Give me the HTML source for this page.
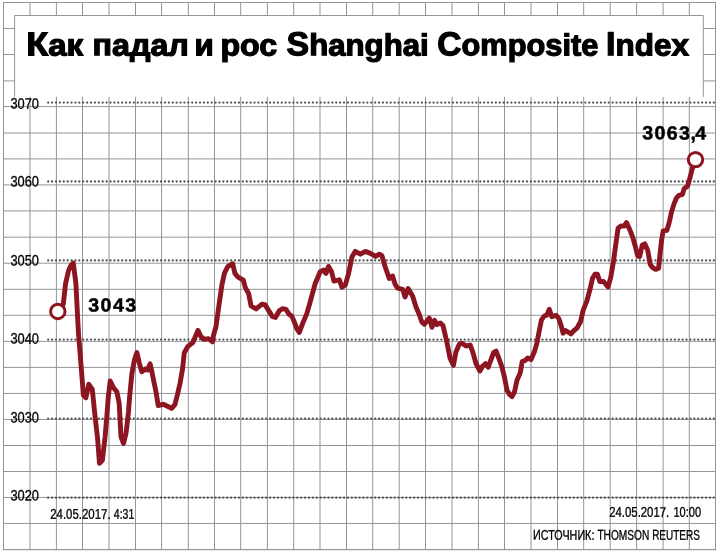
<!DOCTYPE html>
<html lang="ru"><head><meta charset="utf-8"><title>Как падал и рос Shanghai Composite Index</title>
<style>
html,body{margin:0;padding:0;background:#fff;}
body{width:718px;height:551px;overflow:hidden;}
svg{display:block;}
text{font-family:"Liberation Sans","DejaVu Sans",sans-serif;fill:#000;}
.t{font-weight:bold;font-size:30.5px;stroke:#000;stroke-width:1.2px;stroke-linejoin:miter;}
.ax{font-size:15px;stroke:#000;stroke-width:0.3px;}
.sm{font-size:13.5px;stroke:#000;stroke-width:0.3px;}
.val{font-weight:bold;font-size:18px;stroke:#000;stroke-width:0.45px;}
</style></head><body>
<svg width="718" height="551" viewBox="0 0 718 551">
<rect width="718" height="551" fill="#fff"/>
<rect x="0" y="550" width="718" height="1" fill="#e9e9e9"/>
<path d="M3.5 2V549.95M30 2V549.95M56.4 2V549.95M82.5 2V549.95M109 2V549.95M135.5 2V549.95M161.6 2V549.95M188.3 2V549.95M214.5 2V549.95M240.7 2V549.95M267.4 2V549.95M293.7 2V549.95M320 2V549.95M346.5 2V549.95M372.7 2V549.95M399.2 2V549.95M425.5 2V549.95M452 2V549.95M478.4 2V549.95M504.5 2V549.95M531 2V549.95M557.5 2V549.95M583.7 2V549.95M610.2 2V549.95M636.6 2V549.95M663.1 2V549.95M689.3 2V549.95M715.5 2V549.95M3 2.5H716M3 28.5H716M3 54.5H716M3 80.9H716M3 106.6H716M3 133H716M3 158.9H716M3 184.9H716M3 210.9H716M3 237.2H716M3 263.2H716M3 289.3H716M3 315.3H716M3 341.35H716M3 367.4H716M3 393.45H716M3 419.45H716M3 445.5H716M3 471.5H716M3 497.45H716M3 523.45H716M3 549.45H716" fill="none" stroke="#939598" stroke-width="1"/>
<rect x="14.6" y="15.5" width="688.7" height="81.3" fill="#fff"/>
<path d="M14.6 96.8V15.5H703.3V96.8" fill="none" stroke="#939598" stroke-width="1"/>
<text class="t" transform="matrix(1.0853 0.00072 0 1 26.24 55.38)"><tspan font-size="33.14">К</tspan>ак</text>
<text class="t" transform="matrix(1.0591 0.00072 0 1 92.41 55.37)">падал</text>
<text class="t" transform="matrix(1.0286 0.00072 0 1 194.46 55.39)">и</text>
<text class="t" transform="matrix(1.0565 0.00072 0 1 220.45 55.38)">рос</text>
<text class="t" transform="matrix(1.023 0.00072 0 1 286.54 55.35)"><tspan font-size="33.14">S</tspan>hanghai</text>
<text class="t" transform="matrix(1.0104 0.00072 0 1 437.34 55.34)"><tspan font-size="33.14">C</tspan>omposite</text>
<text class="t" transform="matrix(1.0323 0.00072 0 1 605.92 55.37)"><tspan font-size="33.14">I</tspan>ndex</text>
<line x1="48.2" y1="102.6" x2="714.5" y2="102.6" stroke="#525256" stroke-width="2.3" stroke-linecap="round" stroke-dasharray="0 3.8925"/>
<line x1="48.2" y1="181.5" x2="714.5" y2="181.5" stroke="#525256" stroke-width="2.3" stroke-linecap="round" stroke-dasharray="0 3.8925"/>
<line x1="48.2" y1="260.4" x2="714.5" y2="260.4" stroke="#525256" stroke-width="2.3" stroke-linecap="round" stroke-dasharray="0 3.8925"/>
<line x1="48.2" y1="339.6" x2="714.5" y2="339.6" stroke="#525256" stroke-width="2.3" stroke-linecap="round" stroke-dasharray="0 3.8925"/>
<line x1="48.2" y1="418.55" x2="714.5" y2="418.55" stroke="#525256" stroke-width="2.3" stroke-linecap="round" stroke-dasharray="0 3.8925"/>
<line x1="48.2" y1="497.65" x2="714.5" y2="497.65" stroke="#525256" stroke-width="2.3" stroke-linecap="round" stroke-dasharray="0 3.8925"/>
<text class="ax" transform="matrix(0.8569 0.00147 0 1.0115 10.38 108.62)">3070</text>
<text class="ax" transform="matrix(0.8569 0.00147 0 1.0115 10.38 186.52)">3060</text>
<text class="ax" transform="matrix(0.8569 0.00147 0 1.0115 10.38 265.52)">3050</text>
<text class="ax" transform="matrix(0.8569 0.00147 0 1.0115 10.38 343.62)">3040</text>
<text class="ax" transform="matrix(0.8569 0.00147 0 1.0115 10.38 422.52)">3030</text>
<text class="ax" transform="matrix(0.8569 0.00147 0 1.0115 10.38 500.52)">3020</text>
<polyline fill="none" stroke="#8c1521" stroke-width="4.9" stroke-linejoin="round" stroke-linecap="round" points="57.8,311.4 63.3,304 65.6,283.4 68.6,270.5 71,265.3 73.3,263 75.9,283.4 77.6,316.9 78.6,335 80.9,363.4 83.4,395.2 85.9,397.7 88.8,384.3 92.3,389.4 95.1,416.7 97.6,438.5 99.5,463.2 102.4,460.2 105.1,436.8 106.8,416.7 108.3,397 110.2,381 113.5,387.7 116.9,391.9 119.2,403.5 121,436.8 123.5,443.5 126,433.5 128.5,411.7 129.6,396.9 131.9,373.5 134.4,360.1 136.9,352.6 139.4,363.4 141.8,371.8 145.9,368.8 147.6,370 150.1,363.8 152.6,375.2 156,392 158.2,405.5 163.3,404.3 171.6,408.3 174.9,404.6 177.7,393.5 180.1,383 182.6,368.5 184.3,352.6 187.7,346.7 193,342.3 195.9,335.2 198,330.4 200.6,336 203.7,339.3 208.5,338.6 212.5,341.8 213.6,335 216,326.5 218.5,308.5 221.9,285.1 224.4,273.4 227.7,266.7 232.7,263.7 234.9,273.4 237.7,276.8 243.3,280.1 245.3,287.6 248.6,293.5 251.1,306 256.1,308.9 261.7,304.3 265,304.6 269.5,311.9 272.3,316.5 275.4,317.5 279.4,310.6 282.7,308.7 285.9,309.4 289.2,314.4 291.8,316.1 294.3,321.9 296.8,328.6 299.3,332.5 302.6,323.6 306.8,313.6 310.2,301.9 315.2,283.5 320.2,271.8 323.5,270.1 326,273.4 328.5,266.4 331.6,271.8 333.9,281 339.4,279.8 341.9,287.2 345.3,285.2 348.6,273.4 352,256.7 355.3,251.4 360.3,254.2 365.3,251.4 370.4,253.4 375.6,256.4 379.3,254.2 381.9,255.6 385.1,266.5 389.2,278.5 392.6,276 395.1,284.3 397.6,288.2 402.6,289.3 405.1,296.9 408.1,288.5 412.6,296 416,306.9 419.3,314.4 421.8,321.9 424.3,324.3 429.3,318.1 432,327.3 434.5,320.3 437,324.7 440.3,322.9 443,325.6 446.8,341.8 450.1,358.5 453.4,365.2 456,351.8 459.3,344.3 461.8,343.1 466,346 470.2,345.1 472.7,351.8 476,363.5 479.9,371 482.7,366 485.6,363.5 488.2,367.2 491.1,359.3 493.6,352.6 496.1,351 498.6,357.7 501.9,366.9 504.4,376.9 507,390.3 509.5,394.4 512,396.6 514.5,391.9 517,380.2 520.3,372.7 522.2,361.6 525.2,360.5 527.7,358.1 531,359.6 534.4,351.8 536.8,343.6 539.4,330 541.4,320.2 544.2,316 546.8,315.2 549.3,309.3 551.8,316.8 556,315.2 558.8,318.5 561,325.2 563.1,333.2 565.5,330.5 571,333.9 573.5,331 576.9,328.2 580.5,321.8 583.2,310.1 586.9,300.9 590.1,289 592.6,278 595,274.2 597.4,274.3 599.8,281.6 603.5,281.5 608,287 610.7,277.6 613.4,261.9 615.9,243.5 618.1,228.1 620.9,225.9 624.3,226.1 626.5,222.6 629.3,228.6 632.6,236.8 635.2,246 637.7,256 639.7,256.5 642.2,245.2 644.8,243.8 647.7,250.2 650.2,264.4 652.7,267.7 655.6,269.4 658.6,268.2 659.9,255.2 661.6,240.1 663.2,230.9 666.9,230.4 669.4,221.7 671.5,212 674.1,203.6 676.6,197.8 679.1,195.3 682.4,194.4 684.2,188.6 687.6,186 689.8,178.3 692.3,168.5 695.5,159.6"/>
<circle cx="57.8" cy="311.45" r="7.2" fill="#fff" stroke="#8c1521" stroke-width="3"/>
<circle cx="695.5" cy="159.6" r="7.2" fill="#fff" stroke="#8c1521" stroke-width="3"/>
<text class="val" letter-spacing="1.36" transform="matrix(1.0888 0.00122 0 1.0566 88.16 311.44)">3043</text>
<text class="val" letter-spacing="1.27" transform="matrix(1.0913 0.00122 0 1.0566 642.16 139.35)">3063<tspan dx="-0.8">,</tspan><tspan dx="-1.98">4</tspan></text>
<text class="sm" transform="matrix(0.8487 0.00163 0 1.0462 50.18 518.78)">24.05.2017.</text>
<text class="sm" transform="matrix(0.7805 0.00163 0 1.0462 113.8 518.82)">4:31</text>
<text class="sm" transform="matrix(0.843 0.00163 0 1.0462 609.18 516.78)">24.05.2017.</text>
<text class="sm" transform="matrix(0.8185 0.00163 0 1.0462 673.48 516.81)">10:00</text>
<text class="sm" transform="matrix(0.7973 0.00163 0 1.0421 533.1 539.61)">ИСТОЧНИК:</text>
<text class="sm" transform="matrix(0.7514 0.00163 0 1.0421 597.41 539.61)">THOMSON</text>
<text class="sm" transform="matrix(0.7413 0.00163 0 1.0421 652.16 539.62)">REUTERS</text>
</svg></body></html>
